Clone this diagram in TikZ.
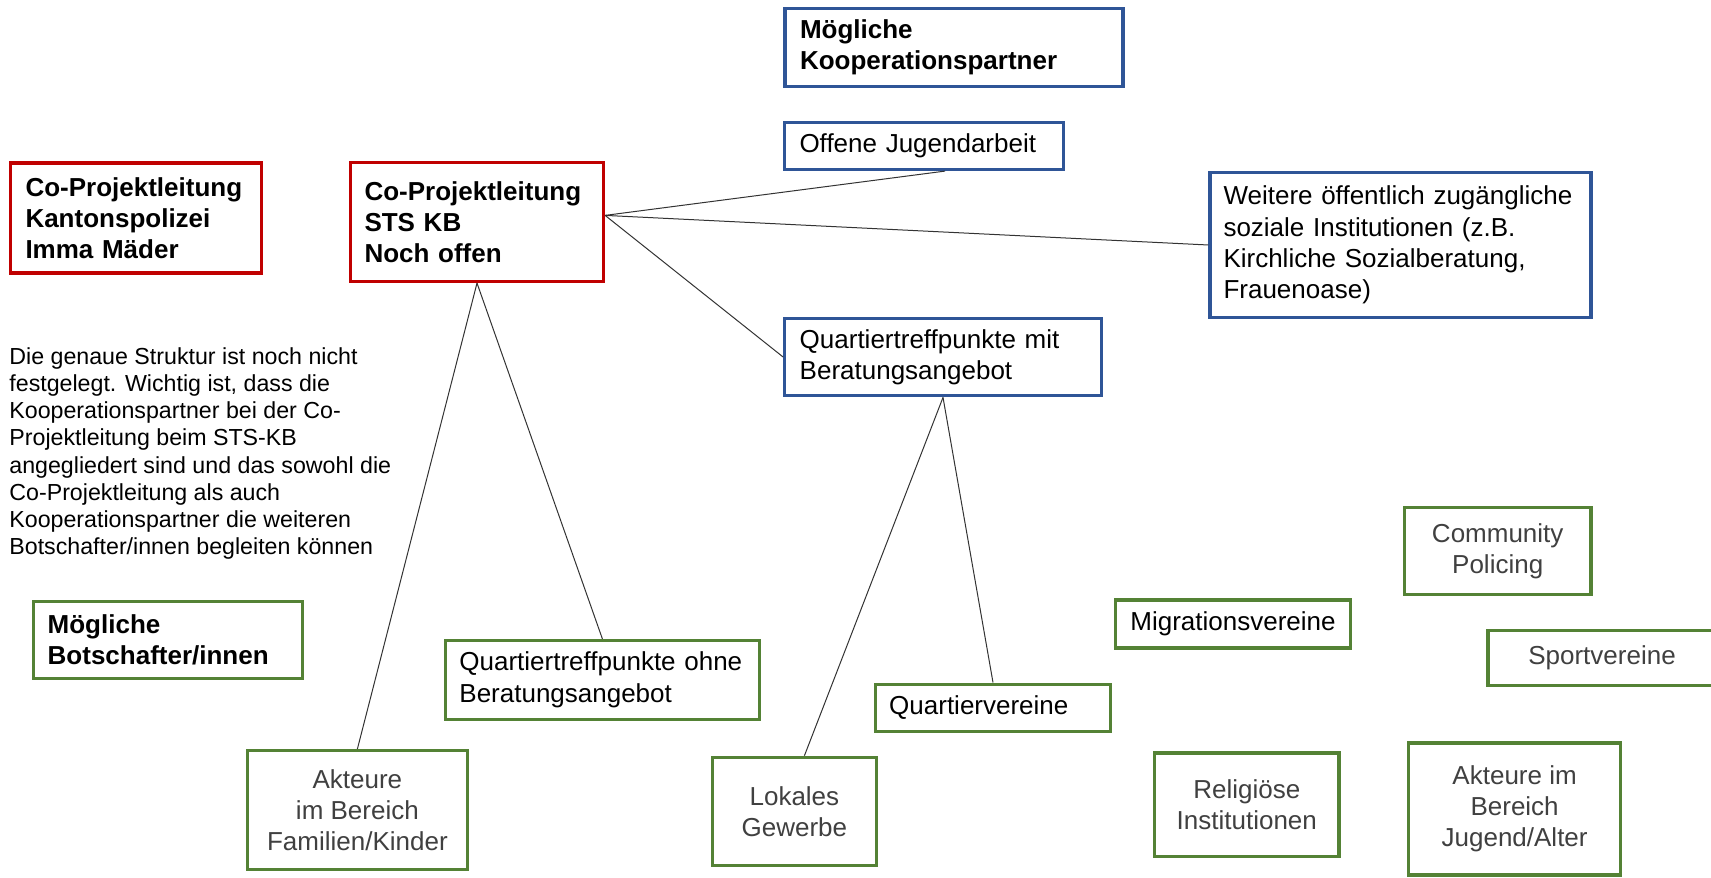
\documentclass[tikz,border=0pt]{standalone}
\usepackage{fontspec}
\setmainfont{Liberation Sans}
\definecolor{boxred}{RGB}{192,0,0}
\definecolor{boxblue}{RGB}{47,85,151}
\definecolor{boxgreen}{RGB}{84,130,53}
\definecolor{txtgrey}{RGB}{64,64,64}
\begin{document}
\begin{tikzpicture}[x=0.5pt,y=-0.5pt,
  box/.style={draw,line width=1.6pt,fill=white,inner sep=0pt,font=\fontsize{13}{15.6}\selectfont},
  redbox/.style={box,draw=boxred,align=left,font=\fontsize{13}{15.6}\selectfont\bfseries},
  bluebox/.style={box,draw=boxblue,align=left},
  greenbox/.style={box,draw=boxgreen,align=center,text=txtgrey},
  link/.style={line width=0.5pt,draw=black!80}]

\useasboundingbox (0,0) rectangle (1711,877) ;
\clip (0,0) rectangle (1711,877) ;

\node[redbox,minimum width=125.5pt,minimum height=55pt,text width=110.5pt] (n_kapo) at (136,218) {Co-Projektleitung\\Kantonspolizei\\Imma Mäder} ;
\node[redbox,minimum width=126.5pt,minimum height=59.5pt,text width=112.5pt] (n_sts) at (477,222) {Co-Projektleitung\\STS KB\\Noch offen} ;

\node[bluebox,font=\fontsize{13}{15.6}\selectfont\bfseries,minimum width=169pt,minimum height=38.8pt,text width=154pt] (n_kop) at (954,47.5) {Mögliche\\Kooperationspartner} ;
\node[bluebox,minimum width=139.5pt,minimum height=23.5pt,text width=124.5pt] (n_oja) at (924,146) {Offene Jugendarbeit} ;
\node[bluebox,minimum width=190.5pt,minimum height=72.5pt,text width=177pt] (n_weitere) at (1400.5,245) {Weitere öffentlich zugängliche\\soziale Institutionen (z.B.\\Kirchliche Sozialberatung,\\Frauenoase)} ;
\node[bluebox,minimum width=158.3pt,minimum height=38.8pt,text width=143.3pt] (n_qtm) at (943,357) {Quartiertreffpunkte mit\\Beratungsangebot} ;

\node[anchor=north west,inner sep=0pt,align=left,font=\fontsize{11.6}{13.6}\selectfont] (n_note) at (9,347) {Die genaue Struktur ist noch nicht\\festgelegt. Wichtig ist, dass die\\Kooperationspartner bei der Co-\\Projektleitung beim STS-KB\\angegliedert sind und das sowohl die\\Co-Projektleitung als auch\\Kooperationspartner die weiteren\\Botschafter/innen begleiten können} ;

\node[greenbox,text=black,align=left,font=\fontsize{13}{15.6}\selectfont\bfseries,minimum width=134.3pt,minimum height=38.7pt,text width=120.3pt] (n_mb) at (168,640) {Mögliche\\Botschafter/innen} ;
\node[greenbox,text=black,align=left,minimum width=157pt,minimum height=39.3pt,text width=143pt] (n_qto) at (602.4,679.8) {Quartiertreffpunkte ohne\\Beratungsangebot} ;
\node[greenbox,minimum width=109.7pt,minimum height=59.5pt] (n_akf) at (357.4,810) {Akteure\\im Bereich\\Familien/Kinder} ;
\node[greenbox,minimum width=81.8pt,minimum height=54pt] (n_lg) at (794.4,811.3) {Lokales\\Gewerbe} ;
\node[greenbox,text=black,align=left,minimum width=117.8pt,minimum height=23.5pt,text width=103.8pt] (n_qv) at (993,707.6) {Quartiervereine} ;
\node[greenbox,text=black,minimum width=117.8pt,minimum height=24pt] (n_mv) at (1233,624) {Migrationsvereine} ;
\node[greenbox,minimum width=93.3pt,minimum height=43.7pt] (n_cp) at (1497.7,551) {Community\\Policing} ;
\node[greenbox,minimum width=114pt,minimum height=27.3pt] (n_sv) at (1602,658) {Sportvereine} ;
\node[greenbox,minimum width=92.2pt,minimum height=51.8pt] (n_ri) at (1246.8,804.8) {Religiöse\\Institutionen} ;
\node[greenbox,minimum width=105.8pt,minimum height=66pt] (n_aja) at (1514.6,809) {Akteure im\\Bereich\\Jugend/Alter} ;

\draw[link] ([yshift=3.3pt]n_sts.east) -- ([xshift=10.5pt]n_oja.south) ;
\draw[link] ([yshift=3.3pt]n_sts.east) -- (n_weitere.west) ;
\draw[link] ([yshift=3.3pt]n_sts.east) -- (n_qtm.west) ;
\draw[link] (n_sts.south) -- (n_akf.north) ;
\draw[link] (n_sts.south) -- (n_qto.north) ;
\draw[link] (n_qtm.south) -- ([xshift=5pt]n_lg.north) ;
\draw[link] (n_qtm.south) -- (n_qv.north) ;

\end{tikzpicture}
\end{document}
